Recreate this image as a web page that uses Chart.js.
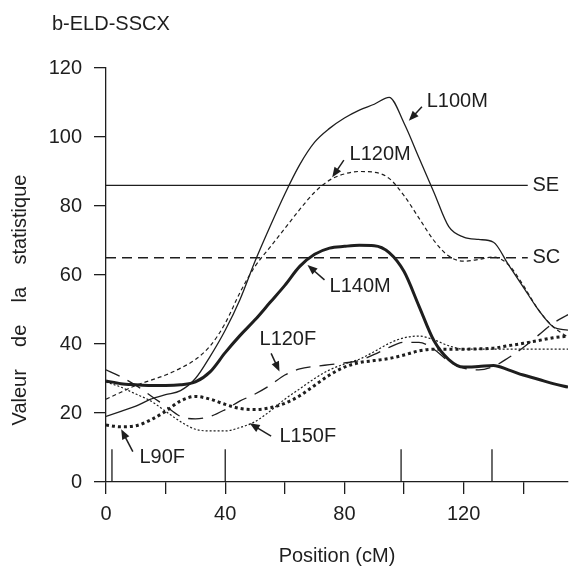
<!DOCTYPE html>
<html>
<head>
<meta charset="utf-8">
<script src="https://cdn.jsdelivr.net/npm/chart.js@4.4.1/dist/chart.umd.min.js"></script>
<style>
  html, body { margin: 0; padding: 0; background: #fff; }
  #wrap { width: 571px; height: 568px; }
</style>
</head>
<body>
<div id="wrap"><canvas id="lod-chart" width="571" height="568"></canvas></div>
<script>

// data ==========================================================

const positions = [0, 5, 10, 15, 20, 25, 30, 35, 40, 45, 50, 55, 60, 65, 70, 75,
  80, 85, 90, 95, 100, 105, 110, 115, 120, 125, 130, 135, 140, 145, 150, 155];

const l100m = [19, 20.5, 22, 24, 25.3, 26.5, 30, 36.5, 44, 53, 64, 74, 83.5, 92, 98.5, 102.5,
  105.5, 107.8, 109.5, 111.5, 104, 94, 84, 74, 71, 70.3, 69.5, 63, 56.5, 50, 45, 44];
const l120m = [24, 26, 28, 29.5, 31, 33, 35.5, 39.5, 46, 55, 62.5, 68, 73.5, 79, 84, 87.5,
  89.3, 90, 89.8, 88, 83, 76.5, 70, 65.5, 64, 64.5, 65.2, 63, 57, 50, 45, 42];
const l140m = [29.3, 28.5, 28.2, 28, 28, 28.2, 29, 32, 37.5, 42.5, 47, 52, 57, 62.5, 66, 67.8,
  68.3, 68.6, 68.5, 66.5, 61, 51, 41, 35.5, 33.3, 33.5, 33.8, 32.5, 31, 29.8, 28.5, 27.5];
const l120f = [32.5, 30.5, 28, 25, 22, 19, 18.3, 19, 21, 23.5, 25.5, 28, 31, 32.8, 33.5, 34,
  34.5, 35.2, 37, 39, 40.5, 40.5, 38.5, 35, 33, 32.5, 33.5, 36, 39, 42.5, 46, 48.5];
const l150f = [29, 27.5, 25.5, 23.5, 20.5, 17.5, 15.3, 14.8, 14.8, 15.8, 17.5, 20.5, 24, 27, 30, 32.5,
  34.2, 35.6, 37.8, 40.2, 41.8, 42.3, 41.2, 39.5, 38.5, 38.5, 38.5, 38.5, 38.5, 38.5, 38.5, 38.5];
const l90f = [16.5, 16, 16.3, 18, 20.5, 23.5, 24.8, 24, 22.5, 21.3, 21, 21.5, 22.8, 25, 28, 31,
  33.3, 34.6, 35.2, 35.8, 36.8, 38, 38.5, 38.5, 38.5, 38.6, 38.8, 39.5, 40.2, 41, 41.8, 42.3];

// seuils
const seuilSE = 86;
const seuilSC = 65;
const seuilEnd = 141.5;

// marqueurs (cM)
const markers = [2, 40, 99, 129.5];
const markerTop = 9.5;

const yTicks = [0, 20, 40, 60, 80, 100, 120];
const xLabelStep = 40;

// helpers ========================================================

const ink = '#1e1e1e';
const fontFamily = '"Liberation Sans", Arial, sans-serif';
const toPoints = (vals) => vals.map((v, i) => ({ x: positions[i], y: v }));

const markerPoints = [];
markers.forEach(m => {
  markerPoints.push({ x: m, y: 0 }, { x: m, y: markerTop }, { x: m, y: null });
});

function curve(label, vals, width, dash) {
  return {
    label: label,
    data: toPoints(vals),
    borderColor: ink,
    borderWidth: width,
    borderDash: dash,
    borderCapStyle: 'butt',
    pointRadius: 0,
    fill: false,
    cubicInterpolationMode: 'monotone'
  };
}

function flat(label, y, dash) {
  return {
    label: label,
    data: [{ x: 0, y: y }, { x: seuilEnd, y: y }],
    borderColor: ink,
    borderWidth: 1.3,
    borderDash: dash,
    pointRadius: 0,
    fill: false,
    tension: 0
  };
}

// callouts (text + arrow, in data units)
const callouts = [
  { text: 'L100M', at: [107.6, 110.2], from: [106, 108.8], to: [101.6, 104.7] },
  { text: 'L120M', at: [81.7, 95], from: [79.8, 93.3], to: [75.9, 88.3] },
  { text: 'L140M', at: [75, 56.6], from: [73.3, 58.6], to: [67.6, 62.9] },
  { text: 'L120F', at: [51.5, 41.2], from: [55.4, 37.3], to: [58.2, 32] },
  { text: 'L150F', at: [58.2, 13.1], from: [55.4, 13.3], to: [48.2, 17] },
  { text: 'L90F', at: [11.2, 7], from: [9, 8.8], to: [5.1, 15.3] },
  { text: 'SE', at: [143.1, seuilSE] },
  { text: 'SC', at: [143.1, seuilSC] }
];

const calloutPlugin = {
  id: 'callouts',
  afterDatasetsDraw(chart) {
    const ctx = chart.ctx;
    const xs = chart.scales.x;
    const ys = chart.scales.y;
    ctx.save();
    ctx.fillStyle = ink;
    ctx.strokeStyle = ink;
    ctx.font = '20px ' + fontFamily;
    ctx.textBaseline = 'middle';
    ctx.textAlign = 'left';

    // titre
    ctx.fillText('b-ELD-SSCX', 52, 24);

    callouts.forEach(c => {
      ctx.fillText(c.text, xs.getPixelForValue(c.at[0]), ys.getPixelForValue(c.at[1]));
      if (!c.from) return;
      const x1 = xs.getPixelForValue(c.from[0]), y1 = ys.getPixelForValue(c.from[1]);
      const x2 = xs.getPixelForValue(c.to[0]), y2 = ys.getPixelForValue(c.to[1]);
      const ang = Math.atan2(y2 - y1, x2 - x1);
      ctx.lineWidth = 1.5;
      ctx.beginPath();
      ctx.moveTo(x1, y1);
      ctx.lineTo(x2 - 6 * Math.cos(ang), y2 - 6 * Math.sin(ang));
      ctx.stroke();
      ctx.beginPath();
      ctx.moveTo(x2, y2);
      ctx.lineTo(x2 - 10 * Math.cos(ang) + 4 * Math.sin(ang), y2 - 10 * Math.sin(ang) - 4 * Math.cos(ang));
      ctx.lineTo(x2 - 10 * Math.cos(ang) - 4 * Math.sin(ang), y2 - 10 * Math.sin(ang) + 4 * Math.cos(ang));
      ctx.closePath();
      ctx.fill();
    });

    // titre axe y (espacement large comme l'original)
    ctx.translate(20, 300);
    ctx.rotate(-Math.PI / 2);
    ctx.textAlign = 'center';
    ctx.fillText('Valeur    de    la    statistique', 0, 0);
    ctx.restore();
  }
};

// chart ==========================================================

Chart.defaults.font.family = fontFamily;
Chart.defaults.font.size = 20;
Chart.defaults.color = ink;

const lodChart = new Chart(document.getElementById('lod-chart'), {
  type: 'line',
  data: {
    datasets: [
      curve('L140M', l140m, 3, []),
      curve('L100M', l100m, 1.3, []),
      curve('L120M', l120m, 1.2, [4, 3]),
      curve('L120F', l120f, 1.3, [15, 9]),
      curve('L150F', l150f, 1.2, [2, 2]),
      curve('L90F', l90f, 3, [3, 3]),
      flat('SE', seuilSE, []),
      flat('SC', seuilSC, [10, 6]),
      {
        label: 'marqueurs',
        data: markerPoints,
        borderColor: ink,
        borderWidth: 1.3,
        pointRadius: 0,
        spanGaps: false,
        tension: 0
      }
    ]
  },
  options: {
    responsive: false,
    animation: false,
    layout: { padding: { top: 68, right: 3, bottom: 0, left: 0 } },
    plugins: {
      legend: { display: false },
      tooltip: { enabled: false }
    },
    scales: {
      x: {
        type: 'linear',
        min: 0,
        max: 155,
        afterFit: (scale) => { scale.height = 86; },
        grid: { drawOnChartArea: false, tickLength: 12, color: ink, lineWidth: 1.3 },
        border: { color: ink, width: 1.3 },
        ticks: {
          stepSize: 20,
          includeBounds: false,
          maxRotation: 0,
          autoSkip: false,
          padding: 8,
          callback: (v) => (v % xLabelStep === 0 ? String(v) : '')
        },
        title: { display: true, text: 'Position (cM)', padding: { top: 4, bottom: 0 } }
      },
      y: {
        min: 0,
        max: 120,
        afterFit: (scale) => { scale.width = 106; },
        afterBuildTicks: (scale) => { scale.ticks = yTicks.map(v => ({ value: v })); },
        grid: { drawOnChartArea: false, tickLength: 12, color: ink, lineWidth: 1.3 },
        border: { color: ink, width: 1.3 },
        ticks: { padding: 12 }
      }
    }
  },
  plugins: [calloutPlugin]
});
</script>
</body>
</html>
